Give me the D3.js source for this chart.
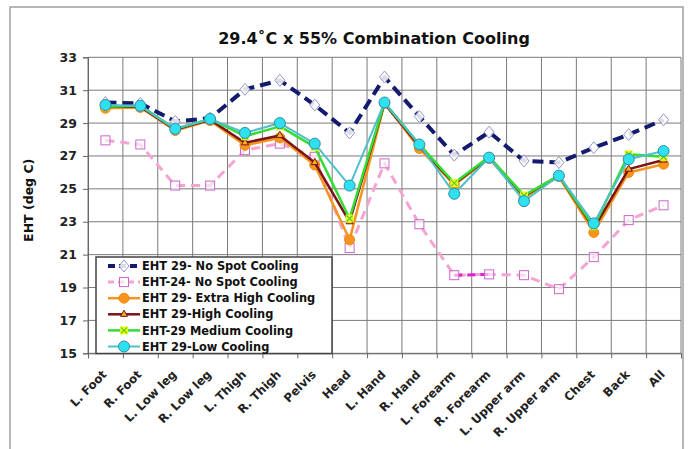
<!DOCTYPE html>
<html><head><meta charset="utf-8">
<script src="https://cdn.jsdelivr.net/npm/d3@7"></script>
<style>body{margin:0;background:#fff}svg{display:block}text{font-family:"DejaVu Sans",sans-serif}</style>
</head><body><svg id="c" width="688" height="449"></svg>
<script>
const categories = ["L. Foot","R. Foot","L. Low leg","R. Low leg","L. Thigh","R. Thigh","Pelvis","Head","L. Hand","R. Hand","L. Forearm","R. Forearm","L. Upper arm","R. Upper arm","Chest","Back","All"];
const noSpot29   = [30.25,30.2,29.1,29.3,31.05,31.6,30.1,28.4,31.8,29.4,27.05,28.45,26.7,26.6,27.5,28.3,29.2];
const noSpot24   = [27.95,27.7,25.2,25.2,27.35,27.75,26.95,21.4,26.55,22.85,19.75,19.8,19.75,18.9,20.85,23.1,24.0];
const extraHigh  = [29.9,29.95,28.55,29.15,27.65,28.1,26.45,21.9,30.2,27.45,25.25,26.85,24.45,25.75,22.35,26.0,26.5];
const high       = [30.0,30.0,28.6,29.2,27.8,28.25,26.6,23.0,30.2,27.6,25.3,26.9,24.55,25.8,22.6,26.2,26.75];
const medium     = [30.0,30.05,28.65,29.25,28.2,28.8,27.55,23.2,30.25,27.7,25.35,26.95,24.6,25.8,22.7,27.1,26.95];
const low        = [30.1,30.05,28.65,29.25,28.4,29.0,27.75,25.2,30.25,27.7,24.7,26.9,24.25,25.8,22.9,26.8,27.3];
const yTicks = [15,17,19,21,23,25,27,29,31,33];
const seriesNames = ["EHT 29- No Spot Cooling","EHT-24- No Spot Cooling","EHT 29- Extra High Cooling","EHT 29-High Cooling","EHT-29 Medium Cooling","EHT 29-Low Cooling"];
const title = "29.4˚C x 55% Combination Cooling";
const yTitle = "EHT (deg C)";

const svg = d3.select("#c");
const L = 88, R = 681, T = 57.3, B = 353.3;
const x = d3.scaleBand().domain(categories).range([L, R]);
const y = d3.scaleLinear().domain([15, 33]).range([B, T]);

// outer frame
svg.append("path").attr("d","M10,460 V7 H683 V460").attr("fill","none").attr("stroke","#a0a0a0").attr("stroke-width",1.5);

// title
svg.append("text").attr("x",374).attr("y",44).attr("text-anchor","middle")
  .attr("font-size",16).attr("font-weight","bold").attr("fill","#111").text(title);

// grid
const g = svg.append("g");
g.selectAll("line.h").data(yTicks).join("line").attr("x1",L).attr("x2",R)
  .attr("y1",d=>y(d)).attr("y2",d=>y(d)).attr("stroke","#7a7a7a").attr("stroke-width",1);
const bounds = categories.map(c=>x(c)).concat([R]);
g.selectAll("line.v").data(bounds).join("line").attr("x1",d=>d).attr("x2",d=>d)
  .attr("y1",T).attr("y2",B).attr("stroke","#7a7a7a").attr("stroke-width",1);

// axes
const yAxis = d3.axisLeft(y).tickValues(yTicks).tickSize(5).tickPadding(6);
const ya = svg.append("g").attr("transform",`translate(${L},0)`).call(yAxis);
ya.select(".domain").attr("stroke","#666");
ya.selectAll(".tick line").attr("stroke","#666");
ya.selectAll("text").attr("font-size",12.5).attr("font-weight","bold").attr("fill","#222").attr("font-family","DejaVu Sans");

const xAxis = d3.axisBottom(d3.scalePoint().domain(bounds.map((d,i)=>i)).range([L,R])).tickSize(5).tickFormat("");
const xa = svg.append("g").attr("transform",`translate(0,${B})`).call(xAxis);
xa.select(".domain").attr("stroke","#666");
xa.selectAll(".tick line").attr("stroke","#666");

svg.append("g").selectAll("text").data(categories).join("text")
  .attr("transform",d=>`translate(${x(d)+x.bandwidth()/2-1},${B+19}) rotate(-45)`)
  .attr("text-anchor","end").attr("dy","0.35em").attr("font-size",11.8).attr("font-weight","bold").attr("fill","#222")
  .text(d=>d);

svg.append("text").attr("transform",`translate(33,${(T+B)/2-5}) rotate(-90)`).attr("text-anchor","middle")
  .attr("font-size",12.5).attr("font-weight","bold").attr("fill","#111").text(yTitle);

// series
const line = d3.line().x((d,i)=>x(categories[i])+x.bandwidth()/2).y(d=>y(d));
const styles = [
  {data:noSpot29, stroke:"#141a6e", w:4, dash:"11,6", marker:"diamond"},
  {data:noSpot24, stroke:"#f4a3d3", w:3, dash:"9,6", marker:"square"},
  {data:extraHigh, stroke:"#f7941d", w:2.5, dash:null, marker:"circleO"},
  {data:high, stroke:"#7a1416", w:2.5, dash:null, marker:"triangle"},
  {data:medium, stroke:"#33dd33", w:2.5, dash:null, marker:"xsq"},
  {data:low, stroke:"#4fbfcc", w:2, dash:null, marker:"circleC"}
];
function drawMarker(sel, m, cx, cy){
  if(m==="diamond"){
    sel.append("path").attr("d",`M${cx},${cy-6}L${cx+5},${cy}L${cx},${cy+6}L${cx-5},${cy}Z`)
      .attr("fill","#fff").attr("fill-opacity",0.85).attr("stroke","#9097c4").attr("stroke-width",1);
  } else if(m==="square"){
    const s=9;
    sel.append("rect").attr("x",cx-s/2).attr("y",cy-s/2).attr("width",s).attr("height",s)
      .attr("fill","#fff").attr("fill-opacity",0.6).attr("stroke","#cc66cc").attr("stroke-width",1);
  } else if(m==="circleO"){
    sel.append("circle").attr("cx",cx).attr("cy",cy).attr("r",5).attr("fill","#f7941d").attr("stroke","#f08a10");
  } else if(m==="triangle"){
    sel.append("path").attr("d",d3.symbol(d3.symbolTriangle, 22)()).attr("transform",`translate(${cx},${cy})`)
      .attr("fill","#f5b01e").attr("stroke","#7a1416").attr("stroke-width",1);
  } else if(m==="xsq"){
    sel.append("rect").attr("x",cx-4).attr("y",cy-4).attr("width",8).attr("height",8).attr("fill","#e6ff1a");
    sel.append("path").attr("d",`M${cx-3},${cy-3}L${cx+3},${cy+3}M${cx-3},${cy+3}L${cx+3},${cy-3}`).attr("stroke","#5ccc30").attr("stroke-width",1.2);
  } else if(m==="circleC"){
    sel.append("circle").attr("cx",cx).attr("cy",cy).attr("r",5.5).attr("fill","#2fe0ee").attr("stroke","#2a8eae").attr("stroke-width",1);
  }
}
const sg = svg.append("g");
styles.forEach((s,si)=>{
  sg.append("path").datum(s.data).attr("d",line).attr("fill","none").attr("stroke",s.stroke)
    .attr("stroke-width",s.w).attr("stroke-dasharray",s.dash).attr("stroke-linejoin","round");
  if(si===1){
    const i0 = categories.indexOf("L. Forearm");
    sg.append("path").datum(s.data.slice(i0,i0+2))
      .attr("d",d3.line().x((d,i)=>x(categories[i0+i])+x.bandwidth()/2).y(d=>y(d)))
      .attr("fill","none").attr("stroke","#e020d0").attr("stroke-width",3).attr("stroke-dasharray","8,5");
  }
  const mg = sg.append("g");
  s.data.forEach((v,i)=>drawMarker(mg, s.marker, x(categories[i])+x.bandwidth()/2, y(v)));
});

// legend
const lg = svg.append("g");
lg.append("rect").attr("x",96).attr("y",257).attr("width",236).attr("height",96.5)
  .attr("fill","#fff").attr("stroke","#444").attr("stroke-width",1.5);
styles.forEach((s,i)=>{
  const ly = 266 + i*16.1;
  lg.append("line").attr("x1",108).attr("x2",140).attr("y1",ly).attr("y2",ly)
    .attr("stroke",s.stroke).attr("stroke-width",s.w).attr("stroke-dasharray",s.dash?(i===0?"7,4":"6,4"):null);
  drawMarker(lg, s.marker, 124, ly);
  lg.append("text").attr("x",142).attr("y",ly).attr("dy","0.36em").attr("font-size",11.4).attr("font-weight","bold")
    .attr("fill","#111").text(seriesNames[i]);
});
</script></body></html>
